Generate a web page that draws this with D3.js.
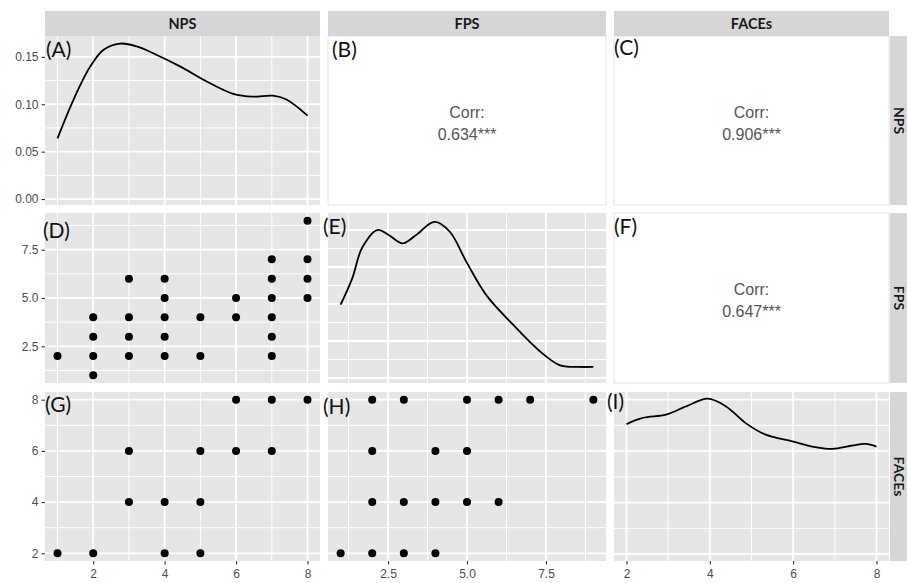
<!DOCTYPE html>
<html>
<head>
<meta charset="utf-8">
<script src="https://cdn.jsdelivr.net/npm/d3@7"></script>
<style>
  body { margin: 0; background: #fff; }
  svg { display: block; }
  .tick text { font-family: "Liberation Sans", Arial, sans-serif; font-size: 12px; fill: #4d4d4d; }
  .tick line { stroke: #333; }
</style>
</head>
<body>
<svg width="907" height="583"></svg>
<script>
const vars = ['NPS', 'FPS', 'FACEs']
const panelLetters = ['(A)', '(B)', '(C)', '(D)', '(E)', '(F)', '(G)', '(H)', '(I)']

// correlations shown in the upper triangle
const corrB = '0.634***'
const corrC = '0.906***'
const corrF = '0.647***'

// observed points (x, y)
const npsVsFps = [
  [1, 2],
  [2, 1], [2, 2], [2, 3], [2, 4],
  [3, 2], [3, 3], [3, 4], [3, 6],
  [4, 2], [4, 3], [4, 4], [4, 5], [4, 6],
  [5, 2], [5, 4],
  [6, 4], [6, 5],
  [7, 2], [7, 3], [7, 4], [7, 5], [7, 6], [7, 7],
  [8, 5], [8, 6], [8, 7], [8, 9]
]
const npsVsFaces = [
  [1, 2], [2, 2], [3, 4], [3, 6], [4, 2], [4, 4],
  [5, 2], [5, 4], [5, 6], [6, 6], [6, 8], [7, 6], [7, 8], [8, 8]
]
const fpsVsFaces = [
  [2, 8], [3, 8], [5, 8], [6, 8], [7, 8], [9, 8],
  [2, 6], [4, 6], [5, 6],
  [2, 4], [3, 4], [4, 4], [5, 4], [6, 4],
  [1, 2], [2, 2], [3, 2], [4, 2]
]

// density curves
const densNPS = [
  [1.0, 0.064], [1.45, 0.105], [1.92, 0.140], [2.29, 0.1575], [2.75, 0.164],
  [3.22, 0.161], [3.78, 0.152], [4.43, 0.140], [5.18, 0.124], [5.92, 0.111],
  [6.47, 0.108], [7.03, 0.109], [7.41, 0.105], [8.0, 0.088]
]
const densFPS = [
  [1.0, 0.099], [1.37, 0.135], [1.68, 0.176], [2.16, 0.200], [2.53, 0.193],
  [2.96, 0.182], [3.38, 0.193], [3.97, 0.211], [4.45, 0.198], [4.98, 0.157],
  [5.61, 0.112], [6.46, 0.072], [7.31, 0.036], [7.95, 0.017], [8.48, 0.015], [9.0, 0.015]
]
const densFACEs = [
  [2.0, 0.1505], [2.39, 0.1529], [2.95, 0.1542], [3.43, 0.1574], [3.95, 0.1604],
  [4.39, 0.1574], [4.86, 0.1509], [5.34, 0.1464], [5.98, 0.1438], [6.46, 0.1418],
  [6.94, 0.1409], [7.42, 0.1422], [7.74, 0.1428], [8.0, 0.1418]
]

// breaks
const npsMajor = [2, 4, 6, 8], npsMinor = [1, 3, 5, 7]
const fpsMajor = [2.5, 5, 7.5], fpsMinor = [1.25, 3.75, 6.25, 8.75]
const facesMajor = [2, 4, 6, 8], facesMinor = [3, 5, 7]
const densAMajor = [0, 0.05, 0.10, 0.15], densAMinor = [0.025, 0.075, 0.125]
const densEMajor = [0, 0.05, 0.10, 0.15, 0.20], densEMinor = [0.025, 0.075, 0.125, 0.175]
const densIMajor = [0.10, 0.12, 0.14, 0.16], densIMinor = [0.11, 0.13, 0.15]

var svg = d3.select('svg')

var cols = [[45, 320], [328, 606], [614, 889]]
var rows = [[36, 205], [213, 383], [392, 561]]

function expand(ext) {
  var pad = (ext[1] - ext[0]) * 0.05
  return [ext[0] - pad, ext[1] + pad]
}

var npsExt = [1, 8], fpsExt = [1, 9], facesExt = [2, 8]

var xScales = [
  d3.scaleLinear().domain(expand(npsExt)).range(cols[0]),
  d3.scaleLinear().domain(expand(fpsExt)).range(cols[1]),
  d3.scaleLinear().domain(expand(facesExt)).range(cols[2])
]
var yFPS = d3.scaleLinear().domain(expand(fpsExt)).range([rows[1][1], rows[1][0]])
var yFACEs = d3.scaleLinear().domain(expand(facesExt)).range([rows[2][1], rows[2][0]])

var yDensA = d3.scaleLinear().domain([-0.0063, 0.172]).range([rows[0][1], rows[0][0]])
var yDensE = d3.scaleLinear().domain([-0.0068, 0.223]).range([rows[1][1], rows[1][0]])
var yDensI = d3.scaleLinear().domain([0.0973, 0.163]).range([rows[2][1], rows[2][0]])

function panelBg(c, r, fill) {
  svg.append('rect')
    .attr('x', cols[c][0]).attr('y', rows[r][0])
    .attr('width', cols[c][1] - cols[c][0])
    .attr('height', rows[r][1] - rows[r][0])
    .attr('fill', fill)
    .attr('stroke', fill === '#fff' ? '#e3e3e3' : 'none')
}

function grid(c, r, x, y, xMaj, xMin, yMaj, yMin) {
  var g = svg.append('g')
  var x0 = cols[c][0], x1 = cols[c][1], y0 = rows[r][0], y1 = rows[r][1]
  g.selectAll('.vmin').data(xMin).join('line')
    .attr('x1', d => x(d)).attr('x2', d => x(d)).attr('y1', y0).attr('y2', y1)
    .attr('stroke', '#fff').attr('stroke-width', 1)
  g.selectAll('.hmin').data(yMin).join('line')
    .attr('y1', d => y(d)).attr('y2', d => y(d)).attr('x1', x0).attr('x2', x1)
    .attr('stroke', '#fff').attr('stroke-width', 1)
  g.selectAll('.vmaj').data(xMaj).join('line')
    .attr('x1', d => x(d)).attr('x2', d => x(d)).attr('y1', y0).attr('y2', y1)
    .attr('stroke', '#fff').attr('stroke-width', 1.8)
  g.selectAll('.hmaj').data(yMaj).join('line')
    .attr('y1', d => y(d)).attr('y2', d => y(d)).attr('x1', x0).attr('x2', x1)
    .attr('stroke', '#fff').attr('stroke-width', 1.8)
}

var line = d3.line().curve(d3.curveCatmullRom.alpha(0.5))

function density(x, y, data) {
  svg.append('path')
    .datum(data)
    .attr('d', line.x(d => x(d[0])).y(d => y(d[1])))
    .attr('fill', 'none')
    .attr('stroke', '#000')
    .attr('stroke-width', 1.8)
}

function points(x, y, data) {
  svg.append('g').selectAll('circle').data(data).join('circle')
    .attr('cx', d => x(d[0]))
    .attr('cy', d => y(d[1]))
    .attr('r', 4)
    .attr('fill', '#000')
}

function corr(c, r, value) {
  var cx = (cols[c][0] + cols[c][1]) / 2
  var cy = (rows[r][0] + rows[r][1]) / 2
  var t = svg.append('text')
    .attr('text-anchor', 'middle')
    .attr('font-family', '"Liberation Sans", Arial, sans-serif')
    .attr('font-size', 16)
    .attr('fill', '#555')
  t.append('tspan').attr('x', cx).attr('y', cy - 3).text('Corr:')
  t.append('tspan').attr('x', cx).attr('y', cy + 19).text(value)
}

// panel backgrounds
for (var r = 0; r < 3; r++) {
  for (var c = 0; c < 3; c++) {
    panelBg(c, r, c > r ? '#fff' : '#e6e6e6')
  }
}

// diagonal
grid(0, 0, xScales[0], yDensA, npsMajor, npsMinor, densAMajor, densAMinor)
grid(1, 1, xScales[1], yDensE, fpsMajor, fpsMinor, densEMajor, densEMinor)
grid(2, 2, xScales[2], yDensI, facesMajor, facesMinor, densIMajor, densIMinor)
density(xScales[0], yDensA, densNPS)
density(xScales[1], yDensE, densFPS)
density(xScales[2], yDensI, densFACEs)

// lower triangle
grid(0, 1, xScales[0], yFPS, npsMajor, npsMinor, fpsMajor, fpsMinor)
grid(0, 2, xScales[0], yFACEs, npsMajor, npsMinor, facesMajor, facesMinor)
grid(1, 2, xScales[1], yFACEs, fpsMajor, fpsMinor, facesMajor, facesMinor)
points(xScales[0], yFPS, npsVsFps)
points(xScales[0], yFACEs, npsVsFaces)
points(xScales[1], yFACEs, fpsVsFaces)

// upper triangle
corr(1, 0, corrB)
corr(2, 0, corrC)
corr(2, 1, corrF)

// axes
function styleAxis(g) {
  g.select('.domain').remove()
  g.selectAll('.tick line').attr('stroke-width', 1.1)
}

svg.append('g').attr('transform', 'translate(45,0)')
  .call(d3.axisLeft(yDensA).tickValues(densAMajor).tickFormat(d3.format('.2f')).tickSize(3.5).tickPadding(3))
  .call(styleAxis)
svg.append('g').attr('transform', 'translate(45,0)')
  .call(d3.axisLeft(yFPS).tickValues(fpsMajor).tickFormat(d3.format('.1f')).tickSize(3.5).tickPadding(3))
  .call(styleAxis)
svg.append('g').attr('transform', 'translate(45,0)')
  .call(d3.axisLeft(yFACEs).tickValues(facesMajor).tickFormat(d3.format('d')).tickSize(3.5).tickPadding(3))
  .call(styleAxis)

var xTickSets = [[npsMajor, 'd'], [fpsMajor, '.1f'], [facesMajor, 'd']]
xScales.forEach(function (x, i) {
  svg.append('g').attr('transform', 'translate(0,' + rows[2][1] + ')')
    .call(d3.axisBottom(x).tickValues(xTickSets[i][0]).tickFormat(d3.format(xTickSets[i][1])).tickSize(3.5).tickPadding(5))
    .call(styleAxis)
})

// strips
vars.forEach(function (v, i) {
  svg.append('rect')
    .attr('x', cols[i][0]).attr('y', 11)
    .attr('width', cols[i][1] - cols[i][0]).attr('height', 25)
    .attr('fill', '#d6d6d6')
  svg.append('text')
    .attr('x', (cols[i][0] + cols[i][1]) / 2).attr('y', 28.5)
    .attr('text-anchor', 'middle')
    .attr('font-family', 'Lato, "Open Sans", sans-serif')
    .attr('font-weight', 700)
    .attr('font-size', 14.5)
    .attr('fill', '#1a1a1a')
    .text(v)

  svg.append('rect')
    .attr('x', 890).attr('y', rows[i][0])
    .attr('width', 25).attr('height', rows[i][1] - rows[i][0])
    .attr('fill', '#d6d6d6')
  var cy = (rows[i][0] + rows[i][1]) / 2
  svg.append('text')
    .attr('transform', 'translate(893.5,' + cy + ') rotate(90)')
    .attr('text-anchor', 'middle')
    .attr('font-family', 'Lato, "Open Sans", sans-serif')
    .attr('font-weight', 700)
    .attr('font-size', 14)
    .attr('fill', '#1a1a1a')
    .text(v)
})

// panel letters
var letterPos = [
  [46, 57], [332, 57], [614, 55],
  [43, 238], [323, 234], [614, 234],
  [45, 412], [323, 414], [607, 409]
]
panelLetters.forEach(function (l, i) {
  svg.append('text')
    .attr('x', letterPos[i][0]).attr('y', letterPos[i][1])
    .attr('font-family', 'Lato, "Open Sans", sans-serif')
    .attr('font-size', 21)
    .attr('fill', '#111')
    .text(l)
})
</script>
</body>
</html>
